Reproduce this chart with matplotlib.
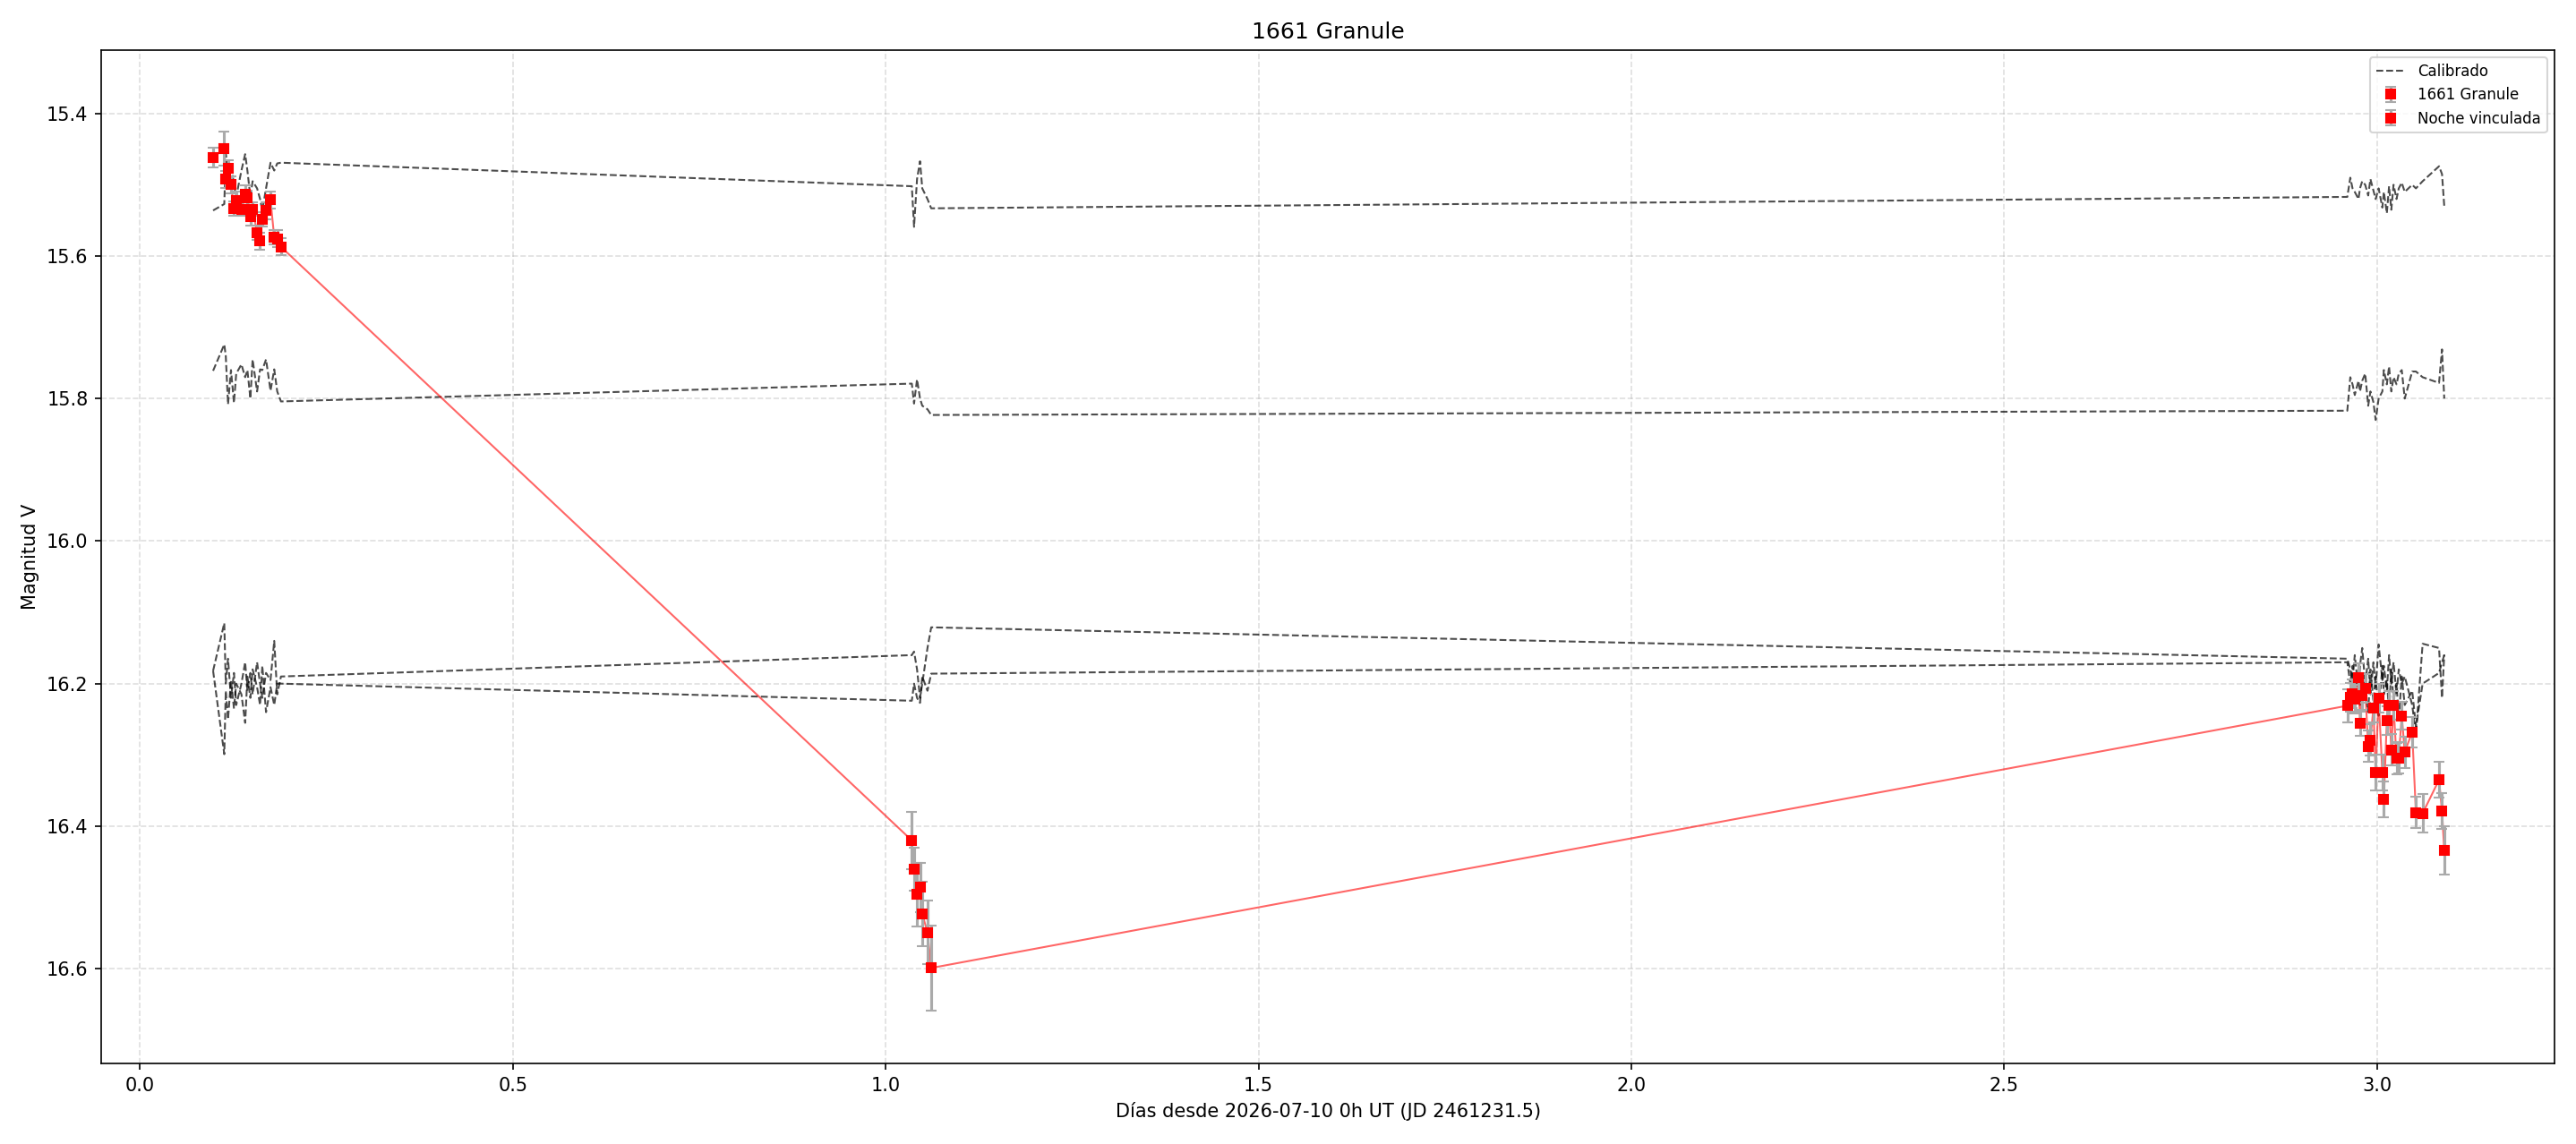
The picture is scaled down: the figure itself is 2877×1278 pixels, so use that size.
import numpy as np
import matplotlib
matplotlib.use("Agg")
import matplotlib.pyplot as plt

# Target: 1661 Granule, three nights (days since 2026-07-10 0h UT)
t_n1 = [0.098, 0.113, 0.115, 0.118, 0.122, 0.126, 0.129, 0.136, 0.141, 0.144,
        0.148, 0.151, 0.157, 0.161, 0.164, 0.169, 0.175, 0.180, 0.184, 0.189]
m_n1 = [15.462, 15.449, 15.492, 15.477, 15.500, 15.533, 15.522, 15.534, 15.513, 15.518,
        15.545, 15.534, 15.567, 15.579, 15.548, 15.536, 15.521, 15.574, 15.576, 15.587]
e_n1 = [0.014, 0.024, 0.012, 0.012, 0.012, 0.010, 0.012, 0.010, 0.012, 0.010,
        0.012, 0.010, 0.010, 0.012, 0.010, 0.012, 0.012, 0.010, 0.012, 0.012]

t_n2 = [1.035, 1.038, 1.042, 1.046, 1.049, 1.056, 1.061]
m_n2 = [16.420, 16.460, 16.496, 16.486, 16.523, 16.549, 16.599]
e_n2 = [0.040, 0.030, 0.045, 0.035, 0.045, 0.045, 0.060]

t_n3 = [2.960, 2.964, 2.967, 2.970, 2.975, 2.977, 2.980, 2.984, 2.988, 2.991,
        2.995, 2.998, 3.002, 3.007, 3.009, 3.013, 3.016, 3.019, 3.022, 3.026,
        3.029, 3.033, 3.037, 3.047, 3.052, 3.061, 3.083, 3.087, 3.090]
m_n3 = [16.231, 16.219, 16.214, 16.222, 16.191, 16.256, 16.217, 16.207, 16.288, 16.279,
        16.234, 16.325, 16.220, 16.325, 16.362, 16.252, 16.231, 16.293, 16.230, 16.305,
        16.304, 16.245, 16.296, 16.268, 16.381, 16.382, 16.335, 16.379, 16.434]
e_n3 = [0.023, 0.020, 0.020, 0.020, 0.020, 0.017, 0.020, 0.020, 0.022, 0.022,
        0.020, 0.025, 0.020, 0.025, 0.025, 0.020, 0.020, 0.022, 0.020, 0.022,
        0.022, 0.020, 0.022, 0.021, 0.022, 0.027, 0.025, 0.025, 0.034]

# Calibrated comparison stars, same epochs as the target
comp_a = [15.536, 15.527, 15.457, 15.480, 15.470, 15.500, 15.517, 15.480, 15.457, 15.480,
          15.517, 15.495, 15.505, 15.520, 15.536, 15.505, 15.469, 15.480, 15.470, 15.469,
          15.502, 15.559, 15.492, 15.467, 15.505, 15.520, 15.533,
          15.517, 15.490, 15.505, 15.510, 15.520, 15.505, 15.495, 15.500, 15.515, 15.492,
          15.508, 15.520, 15.505, 15.532, 15.510, 15.540, 15.502, 15.535, 15.500, 15.520,
          15.505, 15.497, 15.510, 15.500, 15.505, 15.495, 15.474, 15.485, 15.530]
comp_b = [15.761, 15.724, 15.740, 15.808, 15.760, 15.806, 15.765, 15.752, 15.770, 15.760,
          15.800, 15.745, 15.790, 15.759, 15.760, 15.745, 15.789, 15.759, 15.790, 15.804,
          15.779, 15.807, 15.773, 15.800, 15.810, 15.815, 15.823,
          15.817, 15.770, 15.780, 15.795, 15.775, 15.790, 15.775, 15.765, 15.810, 15.790,
          15.805, 15.830, 15.800, 15.790, 15.760, 15.780, 15.755, 15.790, 15.770, 15.780,
          15.765, 15.760, 15.800, 15.762, 15.762, 15.770, 15.778, 15.731, 15.800]
comp_c = [16.182, 16.115, 16.200, 16.165, 16.220, 16.185, 16.230, 16.200, 16.170, 16.210,
          16.185, 16.215, 16.170, 16.200, 16.220, 16.185, 16.195, 16.140, 16.215, 16.190,
          16.160, 16.155, 16.180, 16.220, 16.200, 16.150, 16.121,
          16.165, 16.180, 16.195, 16.160, 16.210, 16.175, 16.150, 16.200, 16.165, 16.215,
          16.170, 16.205, 16.145, 16.195, 16.175, 16.210, 16.160, 16.200, 16.170, 16.215,
          16.180, 16.200, 16.190, 16.230, 16.272, 16.144, 16.150, 16.220, 16.159]
comp_d = [16.182, 16.299, 16.210, 16.250, 16.195, 16.235, 16.200, 16.215, 16.255, 16.190,
          16.220, 16.180, 16.205, 16.230, 16.175, 16.240, 16.205, 16.230, 16.200, 16.200,
          16.224, 16.200, 16.220, 16.227, 16.190, 16.210, 16.186,
          16.170, 16.200, 16.175, 16.215, 16.185, 16.230, 16.190, 16.210, 16.240, 16.180,
          16.225, 16.190, 16.245, 16.175, 16.215, 16.195, 16.240, 16.180, 16.225, 16.200,
          16.250, 16.190, 16.230, 16.210, 16.260, 16.200, 16.185, 16.170, 16.160]

t_all = t_n1 + t_n2 + t_n3
m_all = m_n1 + m_n2 + m_n3

fig, ax = plt.subplots(figsize=(19.18, 8.52), dpi=150)
fig.subplots_adjust(left=0.0393, right=0.9917, top=0.9562, bottom=0.0704)

for i, comp in enumerate([comp_a, comp_b, comp_c, comp_d]):
    ax.plot(t_all, comp, '--', color='black', alpha=0.7, lw=1,
            label='Calibrado' if i == 0 else None)

# line through the target points in time order
ax.plot(t_all, m_all, '-', color='red', alpha=0.6, lw=1)

ax.errorbar(t_n1 + t_n2, m_n1 + m_n2, yerr=e_n1 + e_n2, fmt='s', color='red',
            ms=5, ecolor='#aaaaaa', elinewidth=1.5, capsize=3, label='1661 Granule')
ax.errorbar(t_n3, m_n3, yerr=e_n3, fmt='s', color='red',
            ms=5, ecolor='#aaaaaa', elinewidth=1.5, capsize=3, label='Noche vinculada')

ax.set_xlim(-0.052, 3.238)
ax.set_ylim(16.733, 15.311)
ax.grid(True, linestyle='--', alpha=0.4)
ax.set_title('1661 Granule')
ax.set_xlabel('Días desde 2026-07-10 0h UT (JD 2461231.5)')
ax.set_ylabel('Magnitud V')
ax.legend(loc='upper right', fontsize=8)

fig.savefig('out.png', dpi=150)
